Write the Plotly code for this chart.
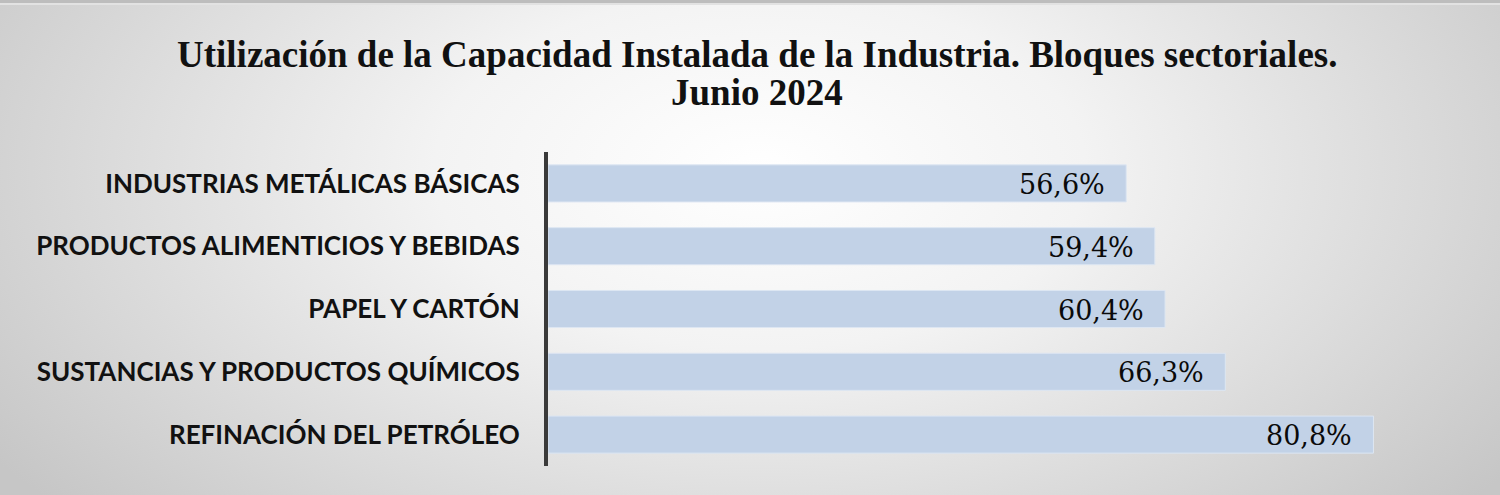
import plotly.graph_objects as go
import base64

categories = [
    "INDUSTRIAS METÁLICAS BÁSICAS",
    "PRODUCTOS ALIMENTICIOS Y BEBIDAS",
    "PAPEL Y CARTÓN",
    "SUSTANCIAS Y PRODUCTOS QUÍMICOS",
    "REFINACIÓN DEL PETRÓLEO",
]
values = [56.6, 59.4, 60.4, 66.3, 80.8]
value_labels = ["56,6%", "59,4%", "60,4%", "66,3%", "80,8%"]

title_lines = [
    "Utilización de la Capacidad Instalada de la Industria. Bloques sectoriales.",
    "Junio 2024",
]

W, H = 1500, 495
ML, MR, MT, MB = 548, 53, 152, 29
PW = W - ML - MR
PH = H - MT - MB


def px_to_paper_x(px):
    return (px - ML) / PW


def px_to_paper_y(py):
    return 1 + (MT - py) / PH


svg = f'''<svg xmlns="http://www.w3.org/2000/svg" width="{W}" height="{H}" viewBox="0 0 {W} {H}" preserveAspectRatio="none">
<defs><radialGradient id="g" cx="{760/W}" cy="{170/H}" r="0.62" gradientTransform="translate({760/W},{170/H}) scale(1,{W/H*0.55}) translate({-760/W},{-170/H})">
<stop offset="0" stop-color="#ffffff"/><stop offset="0.35" stop-color="#f3f3f3"/><stop offset="1" stop-color="#c6c6c6"/></radialGradient></defs>
<rect width="{W}" height="{H}" fill="url(#g)"/>
<rect x="0" y="0" width="{W}" height="3" fill="#bdbdbd"/>
<rect x="0" y="3" width="{W}" height="2" fill="#e2e2e2"/>
</svg>'''
bg_uri = "data:image/svg+xml;base64," + base64.b64encode(svg.encode()).decode()

fig = go.Figure()
fig.add_trace(go.Bar(
    x=values,
    y=categories,
    orientation="h",
    marker=dict(color="#c2d2e7", line=dict(color="#dde6f2", width=1)),
    hoverinfo="skip",
))

for v, lab, cat in zip(values, value_labels, categories):
    fig.add_annotation(
        x=v, y=cat, text=lab, showarrow=False,
        xanchor="right", yanchor="middle", xshift=-19, yshift=-1,
        font=dict(family="DejaVu Serif", size=27, color="#0a0a0a"),
    )

title_y_px = [55, 93]
for line, ypx in zip(title_lines, title_y_px):
    fig.add_annotation(
        xref="paper", yref="paper",
        x=px_to_paper_x(757), y=px_to_paper_y(ypx),
        text=f"<b>{line}</b>", showarrow=False,
        xanchor="center", yanchor="middle",
        font=dict(family="Liberation Serif", size=37, color="#111111"),
    )

fig.update_layout(
    width=W, height=H,
    margin=dict(l=ML, r=MR, t=MT, b=MB),
    paper_bgcolor="#d0d0d0",
    plot_bgcolor="rgba(0,0,0,0)",
    showlegend=False,
    bargap=0.41,
    xaxis=dict(
        range=[0, 88], showgrid=False, zeroline=False, showline=False,
        showticklabels=False, ticks="",
    ),
    yaxis=dict(
        autorange="reversed", showgrid=False, zeroline=False,
        showline=True, linewidth=4, linecolor="#3a3a3a",
        ticks="", ticklabelstandoff=19,
        tickfont=dict(family="Lato", size=26, color="#111111", weight="bold"),
    ),
    images=[dict(
        source=bg_uri, xref="paper", yref="paper",
        x=-ML / PW, y=1 + MT / PH, sizex=W / PW, sizey=H / PH,
        xanchor="left", yanchor="top", sizing="stretch", layer="below",
    )],
)

fig.write_html("out.html", config={"displayModeBar": False},
               post_script="document.body.style.margin='0';")
